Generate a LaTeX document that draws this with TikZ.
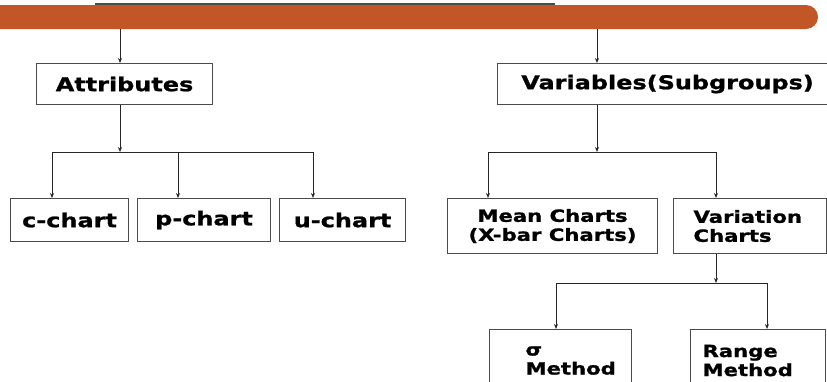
\documentclass[tikz,border=0pt]{standalone}
\usepackage{fontspec}
\newfontfamily\boxfont{DejaVu Sans Bold}[FakeStretch=1.26, FakeBold=1.2]
\usepackage{tikz}
\usetikzlibrary{arrows.meta, positioning}
\definecolor{barorange}{RGB}{194,86,38}
\definecolor{boxline}{RGB}{75,75,75}

\begin{document}
\begin{tikzpicture}[x=1pt, y=-1pt,
    box/.style={draw=boxline, line width=1.1pt, anchor=north west, inner sep=0pt,
        align=center, font=\boxfont\fontsize{19}{21}\selectfont},
    smallbox/.style={box, font=\boxfont\fontsize{16.8}{19}\selectfont},
    link/.style={-{Stealth[length=5pt, width=4pt]}, line width=1pt, black!85},
    bus/.style={line width=1pt, black!85}]
        \useasboundingbox (0,0) rectangle (827,381);
        \clip (0,0) rectangle (827,381);

        % Draw the title bar
        \fill[barorange] (0,5) -- (806,5) arc (-90:90:12) -- (0,29) -- cycle;
        \draw[boxline, line width=1.2pt] (95,4) -- (555,4);

        % Draw the first level boxes
        \node[box, minimum width=176pt, minimum height=41pt] (attr) at (36,63) {Attributes};
        \node[box, minimum width=340pt, minimum height=41pt] (vars) at (497,63) {Variables(Subgroups)};

        % Draw the attribute charts
        \node[box, minimum width=118pt, minimum height=43pt] (cchart) at (10,198) {c-chart};
        \node[box, minimum width=133pt, minimum height=43pt] (pchart) at (137,198) {p-chart};
        \node[box, minimum width=126pt, minimum height=43pt] (uchart) at (279,198) {u-chart};

        % Draw the variable charts
        \node[smallbox, minimum width=210pt, minimum height=55pt] (mean) at (447,198) {Mean Charts\\(X-bar Charts)};
        \node[smallbox, minimum width=153pt, minimum height=55pt, text width=113pt, align=left] (variation) at (673,198) {Variation\\Charts};

        % Draw the method boxes
        \node[smallbox, minimum width=142pt, minimum height=62pt, text width=70pt, align=left] (sigma) at (489,329) {σ\\Method};
        \node[smallbox, minimum width=135pt, minimum height=62pt, text width=111pt, align=left] (range) at (690,329) {Range\\Method};

        % Points on the title bar and on the buses
        \coordinate (barA) at (120,29);
        \coordinate (barV) at (597,29);
        \coordinate (busA) at (120,152);
        \coordinate (busC) at (52,152);
        \coordinate (busP) at (178,152);
        \coordinate (busU) at (313,152);
        \coordinate (busV) at (597,152);
        \coordinate (busM) at (488,152);
        \coordinate (busR) at (716,152);
        \coordinate (busW) at (716,283);
        \coordinate (busS) at (556,283);
        \coordinate (busG) at (767,283);

        % Draw the connectors from the bar
        \draw[link] (barA) -- (barA |- attr.north);
        \draw[link] (barV) -- (barV |- vars.north);

        % Draw the attribute branch
        \draw[link] (busA |- attr.south) -- (busA);
        \draw[bus] (busC) -- (busU);
        \draw[link] (busC) -- (busC |- cchart.north);
        \draw[link] (busP) -- (busP |- pchart.north);
        \draw[link] (busU) -- (busU |- uchart.north);

        % Draw the variable branch
        \draw[link] (busV |- vars.south) -- (busV);
        \draw[bus] (busM) -- (busR);
        \draw[link] (busM) -- (busM |- mean.north);
        \draw[link] (busR) -- (busR |- variation.north);

        % Draw the variation branch
        \draw[link] (busW |- variation.south) -- (busW);
        \draw[bus] (busS) -- (busG);
        \draw[link] (busS) -- (busS |- sigma.north);
        \draw[link] (busG) -- (busG |- range.north);

    \end{tikzpicture}
\end{document}
